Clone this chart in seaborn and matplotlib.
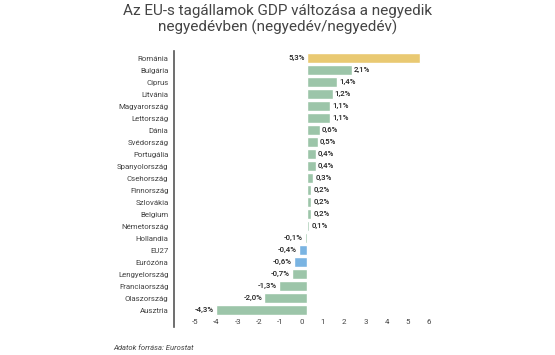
import matplotlib
matplotlib.use("Agg")
import matplotlib.pyplot as plt
import matplotlib.transforms as mtransforms
import seaborn as sns
import pandas as pd

countries = ['Románia', 'Bulgária', 'Ciprus', 'Litvánia', 'Magyarország', 'Lettország',
             'Dánia', 'Svédország', 'Portugália', 'Spanyolország', 'Csehország',
             'Finnország', 'Szlovákia', 'Belgium', 'Németország', 'Hollandia', 'EU27',
             'Eurózóna', 'Lengyelország', 'Franciaország', 'Olaszország', 'Ausztria']
values = [5.3, 2.1, 1.4, 1.2, 1.1, 1.1, 0.6, 0.5, 0.4, 0.4, 0.3,
          0.2, 0.2, 0.2, 0.1, -0.1, -0.4, -0.6, -0.7, -1.3, -2.0, -4.3]
xticks = [-5, -4, -3, -2, -1, 0, 1, 2, 3, 4, 5, 6]

green = '#9cc5a9'
gold = '#e9c972'
blue = '#7ab4e2'
palette = {c: green for c in countries}
palette['Románia'] = gold
palette['EU27'] = blue
palette['Eurózóna'] = blue

df = pd.DataFrame({'orszag': countries, 'valtozas': values})

sns.set_theme(style='white')
plt.rcParams['font.family'] = ['Roboto', 'DejaVu Sans']

fig = plt.figure(figsize=(5.55, 3.55), dpi=100)
ax = fig.add_axes([0.3135, 0.0789, 0.4775, 0.7775])

sns.barplot(data=df, x='valtozas', y='orszag', hue='orszag', palette=palette,
            legend=False, width=0.88, saturation=1, ax=ax, orient='h')

ax.set_xlim(-6.25, 6.2)
ax.set_ylim(22.4, -0.6)
ax.set_xticks(xticks)
ax.set_xticklabels([str(t) for t in xticks])
ax.set_xlabel('')
ax.set_ylabel('')
ax.tick_params(axis='x', length=0, pad=-5.5, labelsize=5.7, labelcolor='#444')
ax.tick_params(axis='y', length=0, pad=4, labelsize=5.7, labelcolor='#444')

# tick labels sit a bit left of their positions in the original
shift = mtransforms.ScaledTranslation(-5.5 / 100, 0, fig.dpi_scale_trans)
for lbl in ax.get_xticklabels():
    lbl.set_transform(lbl.get_transform() + shift)

for s in ['top', 'right', 'bottom']:
    ax.spines[s].set_visible(False)
ax.spines['left'].set_color('#555')
ax.spines['left'].set_linewidth(1.2)

for i, v in enumerate(values):
    txt = f'{v:.1f}%'.replace('.', ',')
    if i == 0:
        ax.annotate(txt, (0, i), xytext=(-1.5, 0), textcoords='offset points',
                    ha='right', va='center', fontsize=5.7, color='#222', fontweight='medium')
    elif v >= 0:
        ax.annotate(txt, (v, i), xytext=(1.5, 0), textcoords='offset points',
                    ha='left', va='center', fontsize=5.7, color='#222', fontweight='medium')
    else:
        ax.annotate(txt, (v, i), xytext=(-1.5, 0), textcoords='offset points',
                    ha='right', va='center', fontsize=5.7, color='#222', fontweight='medium')

fig.text(0.5, 1 - 4 / 355, 'Az EU-s tagállamok GDP változása a negyedik\nnegyedévben (negyedév/negyedév)',
         ha='center', va='top', fontsize=11, color='#444', linespacing=1.1)
fig.text(113 / 555, 1 - 348 / 355, 'Adatok forrása: Eurostat', ha='left', va='center',
         fontsize=5.5, style='italic', color='#444')

fig.savefig('out.png', dpi=100, facecolor='white')
